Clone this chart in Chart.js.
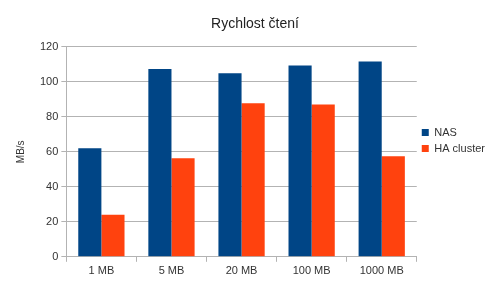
<!DOCTYPE html>
<html>
<head>
<meta charset="utf-8">
<script src="https://cdn.jsdelivr.net/npm/chart.js@4/dist/chart.umd.min.js"></script>
<style>
  html, body { margin: 0; padding: 0; background: #fff; }
  #wrap { width: 500px; height: 281px; }
</style>
</head>
<body>
<div id="wrap"><canvas id="chart" width="500" height="281"></canvas></div>
<script>
// --- Data ---
const categories = ["1 MB", "5 MB", "20 MB", "100 MB", "1000 MB"];
const nasValues  = [62, 107.3, 104.9, 109.3, 111.6];
const haValues   = [24.1, 56.3, 87.7, 87.1, 57.4];
const seriesNames = ["NAS", "HA cluster"];

// --- Style ---
const gridGray = "#b3b3b3";
const textGray = "#333333";
Chart.defaults.font.family = "'Liberation Sans', Arial, sans-serif";
Chart.defaults.color = textGray;

new Chart(document.getElementById("chart"), {
  type: "bar",
  data: {
    labels: categories,
    datasets: [
      { label: seriesNames[0], data: nasValues, backgroundColor: "#004586", categoryPercentage: 0.66, barPercentage: 1 },
      { label: seriesNames[1], data: haValues,  backgroundColor: "#ff420e", categoryPercentage: 0.66, barPercentage: 1 }
    ]
  },
  options: {
    responsive: false,
    animation: false,
    layout: { padding: { left: 15, right: 5, top: 0, bottom: 0 } },
    plugins: {
      title: {
        display: true,
        text: "Rychlost čtení",
        font: { size: 14, weight: "normal" },
        color: "#222",
        padding: { top: 16, bottom: 14 }
      },
      legend: {
        position: "right",
        align: "center",
        labels: {
          boxWidth: 7,
          boxHeight: 7,
          padding: 5,
          font: { size: 11 },
          color: textGray
        }
      },
      tooltip: { enabled: false }
    },
    scales: {
      x: {
        grid: {
          offset: true,
          color: c => c.index === categories.length ? gridGray : "rgba(0,0,0,0)",
          tickColor: gridGray,
          tickLength: 5
        },
        border: { color: gridGray },
        ticks: { font: { size: 11 }, color: textGray, padding: 3 }
      },
      y: {
        min: 0,
        max: 120,
        ticks: { stepSize: 20, font: { size: 11 }, color: textGray, padding: 3 },
        grid: { color: gridGray, tickColor: gridGray, tickLength: 5 },
        border: { color: gridGray },
        title: { display: true, text: "MB/s", font: { size: 10 }, color: textGray, padding: { top: 0, bottom: 10 } }
      }
    }
  }
});
</script>
</body>
</html>
